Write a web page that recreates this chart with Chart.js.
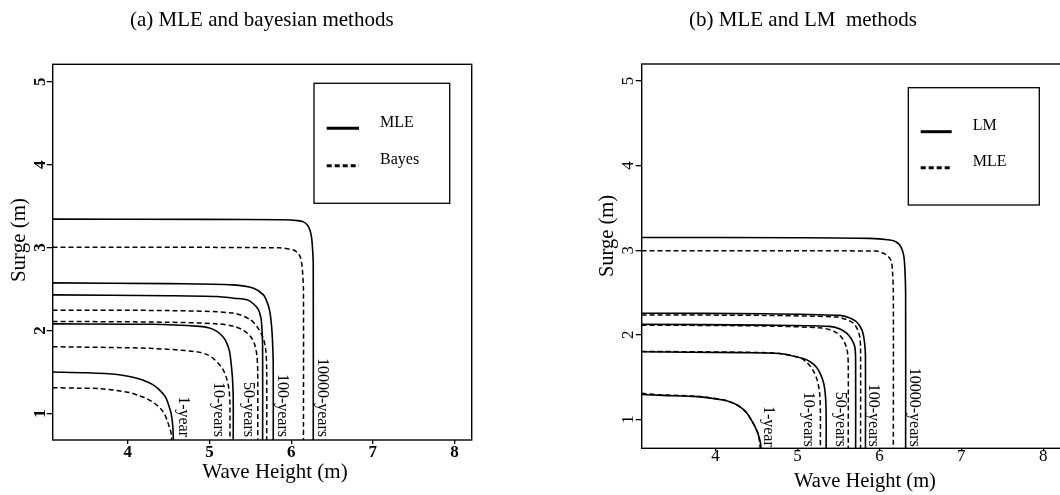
<!DOCTYPE html>
<html><head><meta charset="utf-8">
<script src="https://cdn.jsdelivr.net/npm/chart.js@4.4.1/dist/chart.umd.min.js"></script>
<style>
html,body{margin:0;padding:0;background:#fff;overflow:hidden;width:1060px;height:495px;}
#wrapA{position:absolute;left:0;top:0;width:530px;height:495px;}
#wrapB{position:absolute;left:530px;top:0;width:540px;height:495px;}
</style></head><body>
<div id="wrapA"><canvas id="chartA" width="530" height="495"></canvas></div>
<div id="wrapB"><canvas id="chartB" width="540" height="495"></canvas></div>
<script>
// ---------------- DATA ----------------
const periods = ['1-year', '10-years', '50-years', '100-years', '10000-years'];
const xTickValues = [4, 5, 6, 7, 8];
const yTickValues = [1, 2, 3, 4, 5];

const titleA = '(a) MLE and bayesian methods';
const titleB = '(b) MLE and LM  methods';
const xTitle = 'Wave Height (m)';
const yTitle = 'Surge (m)';

const legendA = ['MLE', 'Bayes'];   // solid, dashed
const legendB = ['LM', 'MLE'];      // solid, dashed

// Panel (a): MLE (solid) curves, [wave height, surge]
const aMLE_1 = [[3.08,1.50],[3.5,1.49],[3.87,1.47],[4.05,1.44],[4.19,1.40],[4.30,1.35],[4.38,1.29],[4.46,1.20],[4.50,1.10],[4.53,1.00],[4.55,0.85],[4.56,0.60]];
const aMLE_10 = [[3.08,2.08],[4.3,2.075],[4.88,2.05],[5.0,2.03],[5.09,1.99],[5.15,1.94],[5.19,1.89],[5.23,1.80],[5.25,1.72],[5.27,1.55],[5.28,1.44],[5.29,1.2],[5.29,0.60]];
const aMLE_50 = [[3.08,2.43],[4.5,2.42],[5.09,2.41],[5.30,2.39],[5.46,2.37],[5.54,2.32],[5.60,2.25],[5.63,2.15],[5.64,2.05],[5.65,1.8],[5.65,0.60]];
const aMLE_100 = [[3.08,2.575],[4.5,2.565],[5.29,2.55],[5.54,2.51],[5.66,2.43],[5.71,2.33],[5.74,2.22],[5.76,2.05],[5.77,1.9],[5.78,1.6],[5.78,0.60]];
const aMLE_10000 = [[3.08,3.343],[5.0,3.34],[5.90,3.335],[6.08,3.325],[6.15,3.31],[6.20,3.27],[6.23,3.21],[6.25,3.12],[6.26,3.01],[6.27,2.8],[6.27,0.60]];
// Panel (a): Bayes (dashed) curves
const aBayes_1 = [[3.08,1.31],[3.4,1.305],[3.66,1.30],[4.03,1.25],[4.15,1.21],[4.23,1.18],[4.33,1.12],[4.40,1.06],[4.45,0.99],[4.48,0.92],[4.51,0.83],[4.53,0.76],[4.54,0.60]];
const aBayes_10 = [[3.08,1.805],[4.27,1.785],[4.84,1.745],[4.97,1.71],[5.05,1.66],[5.12,1.59],[5.17,1.52],[5.21,1.42],[5.24,1.28],[5.25,1.1],[5.25,0.60]];
const aBayes_50 = [[3.08,2.11],[4.5,2.10],[5.1,2.08],[5.30,2.05],[5.42,2.0],[5.50,1.93],[5.55,1.84],[5.58,1.70],[5.59,1.5],[5.59,0.60]];
const aBayes_100 = [[3.08,2.245],[4.5,2.24],[5.29,2.21],[5.50,2.13],[5.60,2.02],[5.66,1.90],[5.69,1.75],[5.70,1.5],[5.70,0.60]];
const aBayes_10000 = [[3.08,3.005],[5.86,2.997],[6.03,2.97],[6.08,2.935],[6.11,2.89],[6.13,2.80],[6.14,2.69],[6.15,2.5],[6.15,0.60]];

// Panel (b): LM (solid) curves
const bLM_1 = [[3.1,1.295],[3.36,1.285],[3.77,1.27],[4.09,1.23],[4.20,1.20],[4.30,1.15],[4.38,1.08],[4.44,0.99],[4.49,0.90],[4.52,0.83],[4.55,0.72],[4.56,0.60]];
const bLM_10 = [[3.1,1.80],[4.3,1.79],[4.78,1.78],[5.07,1.72],[5.16,1.68],[5.23,1.62],[5.28,1.54],[5.32,1.43],[5.34,1.30],[5.35,1.1],[5.35,0.60]];
const bLM_50 = [[3.1,2.125],[4.6,2.115],[5.39,2.10],[5.52,2.07],[5.60,2.02],[5.66,1.95],[5.70,1.86],[5.71,1.7],[5.71,0.60]];
const bLM_100 = [[3.1,2.255],[4.6,2.25],[5.52,2.23],[5.64,2.20],[5.72,2.155],[5.77,2.09],[5.80,2.02],[5.82,1.90],[5.83,1.75],[5.83,0.60]];
const bLM_10000 = [[3.1,3.15],[5.0,3.148],[5.88,3.14],[6.13,3.12],[6.20,3.10],[6.25,3.06],[6.28,3.00],[6.30,2.92],[6.31,2.8],[6.32,2.5],[6.32,0.60]];
// Panel (b): MLE (dashed) curves
const bMLE_1 = [[3.1,1.31],[3.36,1.29],[3.77,1.275],[4.09,1.235],[4.20,1.20],[4.30,1.15],[4.38,1.08],[4.44,0.99],[4.49,0.90],[4.52,0.83],[4.54,0.72],[4.55,0.60]];
const bMLE_10 = [[3.1,1.805],[4.3,1.795],[4.78,1.78],[5.03,1.73],[5.12,1.67],[5.19,1.58],[5.24,1.47],[5.27,1.32],[5.28,1.1],[5.28,0.60]];
const bMLE_50 = [[3.1,2.115],[4.6,2.105],[5.30,2.08],[5.45,2.04],[5.53,1.98],[5.58,1.90],[5.61,1.80],[5.62,1.65],[5.62,0.60]];
const bMLE_100 = [[3.1,2.235],[4.6,2.23],[5.48,2.21],[5.60,2.18],[5.68,2.14],[5.73,2.07],[5.76,1.98],[5.77,1.85],[5.77,0.60]];
const bMLE_10000 = [[3.1,2.995],[5.96,2.99],[6.05,2.965],[6.09,2.94],[6.13,2.90],[6.15,2.85],[6.16,2.75],[6.17,2.5],[6.17,0.60]];

// Return-period label anchors (wave height where each label sits)
const aLabelAt = [4.68, 5.11, 5.47, 5.89, 6.38];
const bLabelAt = [4.64, 5.13, 5.52, 5.92, 6.43];

// ---------------- CHART BUILDING ----------------
const FONT = 'Liberation Serif';
const aSolid = [aMLE_1, aMLE_10, aMLE_50, aMLE_100, aMLE_10000];
const aDashed = [aBayes_1, aBayes_10, aBayes_50, aBayes_100, aBayes_10000];
const bSolid = [bLM_1, bLM_10, bLM_50, bLM_100, bLM_10000];
const bDashed = [bMLE_1, bMLE_10, bMLE_50, bMLE_100, bMLE_10000];

function toPts(arr) { return arr.map(p => ({x: p[0], y: p[1]})); }

function buildDatasets(solid, dashed, names) {
  const ds = [];
  solid.forEach((c, i) => ds.push({label: names[0] + ' ' + periods[i], data: toPts(c), borderColor: '#000', borderWidth: 1.6, borderDash: [], showLine: true, pointRadius: 0, tension: 0.3, fill: false}));
  dashed.forEach((c, i) => ds.push({label: names[1] + ' ' + periods[i], data: toPts(c), borderColor: '#000', borderWidth: 1.5, borderDash: [5, 3], showLine: true, pointRadius: 0, tension: 0.3, fill: false}));
  return ds;
}

function decorPlugin(L) {
  return {
    id: 'decor',
    afterDraw(chart) {
      const ctx = chart.ctx, ca = chart.chartArea, xs = chart.scales.x;
      ctx.save();
      ctx.fillStyle = '#000'; ctx.strokeStyle = '#000';
      // plot frame
      ctx.lineWidth = 1.4; ctx.setLineDash([]);
      ctx.strokeRect(ca.left, ca.top, ca.right - ca.left, ca.bottom - ca.top);
      // return period labels (rotated, reading downward)
      ctx.font = '16px "' + FONT + '"';
      L.labelAt.forEach((v, i) => {
        ctx.save();
        ctx.translate(xs.getPixelForValue(v), ca.bottom - L.labelGap);
        ctx.rotate(Math.PI / 2);
        ctx.textAlign = 'right'; ctx.textBaseline = 'middle';
        ctx.fillText(periods[i], 0, 0);
        ctx.restore();
      });
      // legend box
      const lg = L.legend;
      ctx.lineWidth = 1.3;
      ctx.strokeRect(lg.x, lg.y, lg.w, lg.h);
      ctx.lineWidth = 3;
      [0, 1].forEach(k => {
        ctx.setLineDash(k === 0 ? [] : [5, 3]);
        ctx.beginPath();
        ctx.moveTo(lg.lx0, lg.rows[k]); ctx.lineTo(lg.lx1, lg.rows[k]);
        ctx.stroke();
        ctx.setLineDash([]);
        ctx.font = '16px "' + FONT + '"';
        ctx.textAlign = 'left'; ctx.textBaseline = 'middle';
        ctx.fillText(L.legendNames[k], lg.tx, lg.rows[k] - 6);
      });
      // axis titles
      ctx.font = L.axisFont + 'px "' + FONT + '"';
      ctx.textAlign = 'center'; ctx.textBaseline = 'middle';
      ctx.fillText(xTitle, L.xTitle[0], L.xTitle[1]);
      ctx.save();
      ctx.translate(L.yTitle[0], L.yTitle[1]);
      ctx.rotate(-Math.PI / 2);
      ctx.fillText(yTitle, 0, 0);
      ctx.restore();
      // panel title
      ctx.font = '21px "' + FONT + '"';
      ctx.textAlign = 'left'; ctx.textBaseline = 'alphabetic';
      ctx.fillText(L.title, L.titlePos[0], L.titlePos[1]);
      ctx.restore();
    }
  };
}

function makeChart(id, datasets, S, L) {
  return new Chart(document.getElementById(id), {
    type: 'scatter',
    data: {datasets},
    options: {
      responsive: false, animation: false,
      layout: {padding: S.pad},
      plugins: {legend: {display: false}, tooltip: {enabled: false}, title: {display: false}},
      scales: {
        x: {
          type: 'linear', min: S.xmin, max: S.xmax,
          afterFit: s => { s.height = S.xh; },
          afterBuildTicks: s => { s.ticks = xTickValues.map(v => ({value: v})); },
          border: {display: false},
          grid: {display: true, drawOnChartArea: false, drawTicks: true, tickLength: S.xtl, color: '#000', lineWidth: 1.3},
          ticks: {color: '#000', padding: S.xpad, includeBounds: false, font: {family: FONT, size: 17, weight: S.tickWeight, lineHeight: 1}}
        },
        y: {
          type: 'linear', min: S.ymin, max: S.ymax,
          afterFit: s => { s.width = S.yw; },
          afterBuildTicks: s => { s.ticks = yTickValues.map(v => ({value: v})); },
          border: {display: false},
          grid: {display: true, drawOnChartArea: false, drawTicks: true, tickLength: 6, color: '#000', lineWidth: 1.3},
          ticks: {color: '#000', padding: S.ypad, includeBounds: false, minRotation: 90, maxRotation: 90, crossAlign: 'center', font: {family: FONT, size: 17, weight: S.tickWeight, lineHeight: 1}}
        }
      }
    },
    plugins: [decorPlugin(L)]
  });
}

makeChart('chartA', buildDatasets(aSolid, aDashed, legendA),
  {pad: {left: 0, top: 64.3, right: 58.3, bottom: 0}, xmin: 3.08, xmax: 8.21, ymin: 0.68, ymax: 5.21, xh: 55, yw: 52.7, xtl: 4, xpad: 0, ypad: 1.5, tickWeight: 'bold'},
  {labelAt: aLabelAt, labelGap: 3, legendNames: legendA,
   legend: {x: 314, y: 83.3, w: 135.7, h: 120, lx0: 326.7, lx1: 359, tx: 380, rows: [128.3, 165.7]},
   axisFont: 21, xTitle: [275, 472], yTitle: [19, 240],
   title: titleA, titlePos: [130, 26]});

makeChart('chartB', buildDatasets(bSolid, bDashed, legendB),
  {pad: {left: 0, top: 64, right: 6.2, bottom: 0}, xmin: 3.1, xmax: 8.25, ymin: 0.66, ymax: 5.2, xh: 46.7, yw: 111.7, xtl: 3, xpad: -3, ypad: 3, tickWeight: 'normal'},
  {labelAt: bLabelAt, labelGap: 1.5, legendNames: legendB,
   legend: {x: 378.3, y: 87.7, w: 131, h: 117.3, lx0: 390.7, lx1: 421.7, tx: 442.7, rows: [131.7, 167.7]},
   axisFont: 20.5, xTitle: [335, 482], yTitle: [78, 236],
   title: titleB, titlePos: [159, 26]});
</script>
</body></html>
